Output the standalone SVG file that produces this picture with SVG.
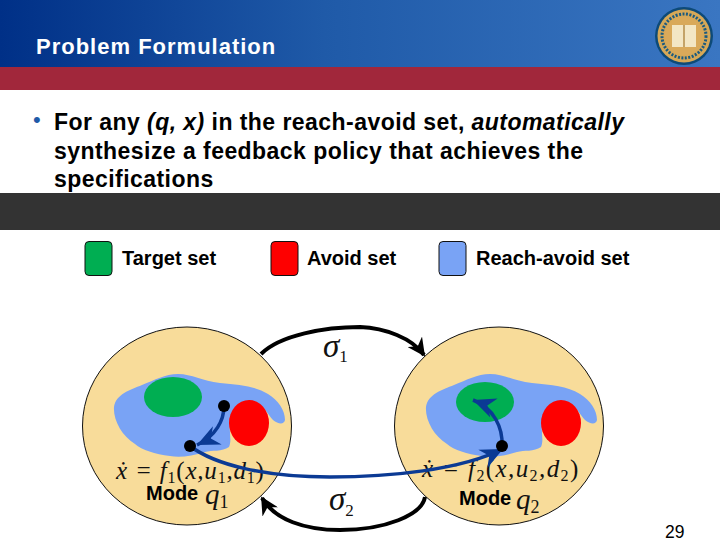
<svg xmlns="http://www.w3.org/2000/svg" width="720" height="540" viewBox="0 0 720 540">
<defs>
<linearGradient id="hdr" x1="0" x2="1" y1="0" y2="0"><stop offset="0" stop-color="#003087"/><stop offset="0.45" stop-color="#1f5aa8"/><stop offset="1" stop-color="#3a76c2"/></linearGradient>
<path id="blob" d="M114 407C116 394 130 390 142 385C155 380 165 374 178 374C192 374 202 381 220 383C240 385 255 386 268 394C278 400 285 410 285 420C284 425 278 424 273 420C268 415 266 409 260 405C250 400 235 412 230 425C229 433 232 440 229 447C222 452 212 450 205 452C192 456 180 458 170 456C155 454 142 450 135 444C122 436 113 420 114 407Z"/>
<marker id="ah" viewBox="0 0 10 10" refX="9" refY="5" markerWidth="4.500" markerHeight="4.500" orient="auto" markerUnits="strokeWidth"><path d="M0 0L10 5L0 10L3 5Z" fill="#000"/></marker>
<marker id="bh" viewBox="0 0 12 12" refX="11" refY="6" markerWidth="7" markerHeight="7" orient="auto" markerUnits="strokeWidth"><path d="M0 1L11 6L0 11L3.500 6Z" fill="#0b3a94"/></marker>
</defs>
<style>
.s{font-family:"Liberation Sans",Arial,sans-serif;fill:#000}
.b{font-weight:700}
.m{font-family:"Liberation Serif","Times New Roman",serif;font-style:italic;fill:#111}
.sub{font-family:"Liberation Serif","Times New Roman",serif;fill:#111}
.disc{fill:#f8dc9a;stroke:#111;stroke-width:1}
.reach{fill:#79a3f5}
.tgt{fill:#00ae52}
.av{fill:#fe0000}
.dot{fill:#000}
.sw{stroke:#111;stroke-width:1}
.tr{fill:none;stroke:#000;stroke-width:4}
.fl{fill:none;stroke:#0b3a94;stroke-width:3.500}
</style>
<rect width="720" height="540" fill="#fff"/>
<g id="header">
<rect width="720" height="67" fill="url(#hdr)"/>
<rect y="67" width="720" height="23" fill="#a1273b"/>
<text x="36" y="54" font-family="Liberation Sans, Arial, sans-serif" font-weight="700" font-size="22" letter-spacing="1" fill="#fff">Problem Formulation</text>
</g>
<g id="seal">
<circle cx="684" cy="36" r="29" fill="#0d4a78"/>
<circle cx="684" cy="36" r="26.500" fill="#d6a857"/>
<circle cx="684" cy="36" r="22" fill="none" stroke="#1a5a80" stroke-width="3" stroke-dasharray="2 1.500"/>
<circle cx="684" cy="36" r="19.500" fill="#d9a95a"/>
<rect x="672" y="25" width="24" height="22" fill="#f3e6c4"/>
<path d="M684 25V47" stroke="#b58d4a" stroke-width="1.500"/>
</g>
<g id="bullet">
<text x="33" y="127" font-family="Liberation Sans, Arial, sans-serif" font-size="22" fill="#1f5aa8">•</text>
<text class="s b" x="54" y="130" font-size="23" letter-spacing="0.45">For any <tspan font-style="italic">(q, x)</tspan> in the reach-avoid set, <tspan font-style="italic">automatically</tspan></text>
<text class="s b" x="54" y="159" font-size="23" letter-spacing="0.45">synthesize a feedback policy that achieves the</text>
<text class="s b" x="54" y="187" font-size="23" letter-spacing="0.45">specifications</text>
</g>
<rect id="band" y="193" width="720" height="37" fill="#333"/>
<g id="legend-target"><rect class="tgt sw" x="85" y="241.500" width="27" height="34" rx="4"/><text class="s b" x="122" y="265" font-size="20">Target set</text></g>
<g id="legend-avoid"><rect class="av sw" x="271" y="241.500" width="27" height="34" rx="4"/><text class="s b" x="307" y="265" font-size="20">Avoid set</text></g>
<g id="legend-reach"><rect class="reach sw" x="439" y="241.500" width="27" height="34" rx="4"/><text class="s b" x="476" y="265" font-size="20">Reach-avoid set</text></g>
<g id="mode1">
<ellipse class="disc" cx="187" cy="426" rx="104.500" ry="99"/>
<use href="#blob" class="reach"/>
<ellipse class="tgt" cx="173" cy="397" rx="29" ry="20"/>
<ellipse class="av" cx="249" cy="423" rx="20" ry="23"/>
<text class="m" x="116" y="479" font-size="25" letter-spacing="0.8">ẋ = f<tspan class="sub" font-style="normal" font-size="16" dy="4">1</tspan><tspan font-style="normal" dy="-4">(</tspan>x,u<tspan class="sub" font-style="normal" font-size="16" dy="4">1</tspan><tspan dy="-4">,d</tspan><tspan class="sub" font-style="normal" font-size="16" dy="4">1</tspan><tspan font-style="normal" dy="-4">)</tspan></text>
<text class="s b" x="146" y="500" font-size="20">Mode</text>
<text class="m" x="205" y="504" font-size="29">q<tspan class="sub" font-style="normal" font-size="18" dy="4">1</tspan></text>
</g>
<g id="mode2">
<ellipse class="disc" cx="499" cy="426" rx="104.500" ry="99"/>
<use href="#blob" class="reach" transform="translate(312 0)"/>
<ellipse class="tgt" cx="485" cy="402" rx="29" ry="20"/>
<ellipse class="av" cx="561" cy="423" rx="20" ry="23"/>
<text class="m" x="422" y="477" font-size="25" letter-spacing="1.400">ẋ = f<tspan class="sub" font-style="normal" font-size="16" dy="4">2</tspan><tspan font-style="normal" dy="-4">(</tspan>x,u<tspan class="sub" font-style="normal" font-size="16" dy="4">2</tspan><tspan dy="-4">,d</tspan><tspan class="sub" font-style="normal" font-size="16" dy="4">2</tspan><tspan font-style="normal" dy="-4">)</tspan></text>
<text class="s b" x="459" y="505" font-size="20">Mode</text>
<text class="m" x="516" y="509" font-size="29">q<tspan class="sub" font-style="normal" font-size="18" dy="4">2</tspan></text>
</g>
<g id="connectors">
<path class="tr" d="M261 354C280 335 325 327 360 327C385 328 412 338 424 355" marker-end="url(#ah)"/>
<path class="tr" d="M425 497C422 515 385 530 340 530C305 530 275 520 262 498" marker-end="url(#ah)"/>
<path class="fl" d="M224 406C224 420 216 436 197 445" marker-end="url(#bh)"/>
<path class="fl" d="M190 446C215 465 265 477 330 477C390 477 460 470 503 449" marker-end="url(#bh)"/>
<path class="fl" d="M502 446C503 428 494 408 473 400" marker-end="url(#bh)"/>
<circle class="dot" cx="224" cy="406" r="6"/>
<circle class="dot" cx="190" cy="446" r="6"/>
<circle class="dot" cx="502" cy="446" r="6"/>
</g>
<text class="m" x="323" y="357" font-size="33">σ<tspan class="sub" font-style="normal" font-size="17" dy="5">1</tspan></text>
<text class="m" x="329" y="510" font-size="33">σ<tspan class="sub" font-style="normal" font-size="17" dy="6">2</tspan></text>
<text class="s" x="665" y="538" font-size="17.500">29</text>
</svg>
